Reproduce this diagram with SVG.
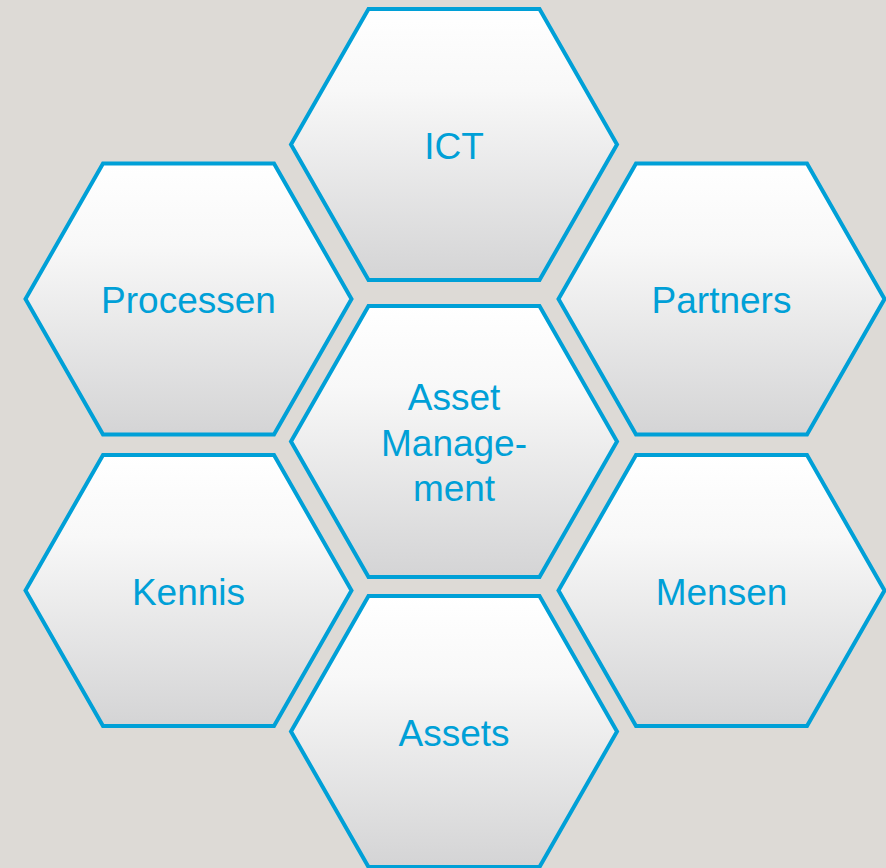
<svg xmlns="http://www.w3.org/2000/svg" width="886" height="868" viewBox="0 0 886 868">
  <defs>
    <linearGradient id="g" x1="0" y1="0" x2="0" y2="1">
      <stop offset="0" stop-color="#FFFFFF"/>
      <stop offset="0.3" stop-color="#F8F8F8"/>
      <stop offset="1" stop-color="#D4D4D5"/>
    </linearGradient>
    <polygon id="hex" points="-163,0 -85.5,-135.5 85.5,-135.5 163,0 85.5,135.5 -85.5,135.5"/>
  </defs>
  <style>
    .hex { fill: url(#g); stroke: #00A0D7; stroke-width: 4; stroke-linejoin: miter; }
    .lbl { font-family: "Liberation Sans", Arial, sans-serif; font-size: 37px; fill: #00A0D7; text-anchor: middle; }
  </style>
  <rect width="886" height="868" fill="#DDDAD6"/>
  <g id="connectors"/>
  <g id="ict" transform="translate(454,144.5)">
    <use href="#hex" class="hex"/>
    <text class="lbl" x="0" y="14">ICT</text>
  </g>
  <g id="processen" transform="translate(188.5,299)">
    <use href="#hex" class="hex"/>
    <text class="lbl" x="0" y="14">Processen</text>
  </g>
  <g id="partners" transform="translate(721.5,299)">
    <use href="#hex" class="hex"/>
    <text class="lbl" x="0" y="14">Partners</text>
  </g>
  <g id="asset-management" transform="translate(454,441.5)">
    <use href="#hex" class="hex"/>
    <text class="lbl" x="0" y="-31.5">Asset</text>
    <text class="lbl" x="0" y="14.5">Manage-</text>
    <text class="lbl" x="0" y="59.5">ment</text>
  </g>
  <g id="kennis" transform="translate(188.5,590.5)">
    <use href="#hex" class="hex"/>
    <text class="lbl" x="0" y="14">Kennis</text>
  </g>
  <g id="mensen" transform="translate(721.5,590.5)">
    <use href="#hex" class="hex"/>
    <text class="lbl" x="0" y="14">Mensen</text>
  </g>
  <g id="assets" transform="translate(454,731.5)">
    <use href="#hex" class="hex"/>
    <text class="lbl" x="0" y="14">Assets</text>
  </g>
</svg>
